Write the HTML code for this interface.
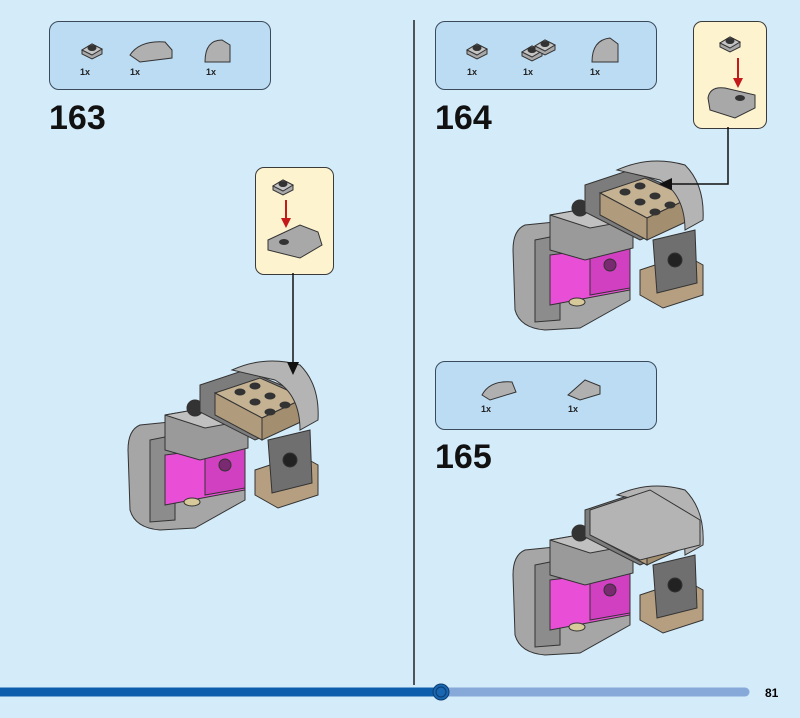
<!DOCTYPE html>
<html><head><meta charset="utf-8"><style>
body{margin:0;width:800px;height:718px;background:#d4ebf9;position:relative;overflow:hidden;font-family:"Liberation Sans",sans-serif}
.box{position:absolute;background:#bcdcf3;border:1.5px solid #3a4a5a;border-radius:10px}
.callout{position:absolute;background:#fdf3cf;border:1.5px solid #3a3a3a;border-radius:9px}
.num{position:absolute;font-weight:bold;font-size:34px;color:#111}
.q{position:absolute;font-weight:bold;font-size:9px;color:#222}
svg{position:absolute;left:0;top:0}
</style></head><body>
<div class="box" style="left:49px;top:21px;width:220px;height:67px"></div>
<div class="box" style="left:435px;top:21px;width:220px;height:67px"></div>
<div class="box" style="left:435px;top:361px;width:220px;height:67px"></div>
<div class="callout" style="left:255px;top:167px;width:77px;height:106px"></div>
<div class="callout" style="left:693px;top:21px;width:72px;height:106px"></div>
<div class="num" style="left:49px;top:99px">163</div>
<div class="num" style="left:435px;top:99px">164</div>
<div class="num" style="left:435px;top:438px">165</div>
<div class="q" style="left:80px;top:67px">1x</div><div class="q" style="left:130px;top:67px">1x</div><div class="q" style="left:206px;top:67px">1x</div>
<div class="q" style="left:467px;top:67px">1x</div><div class="q" style="left:523px;top:67px">1x</div><div class="q" style="left:590px;top:67px">1x</div>
<div class="q" style="left:481px;top:404px">1x</div><div class="q" style="left:568px;top:404px">1x</div>
<div style="position:absolute;left:765px;top:686px;font-weight:bold;font-size:12px">81</div>
<svg width="800" height="718">
<defs>
<g id="plate" stroke="#333" stroke-width="1">
<path d="M0 6 L10 0 L20 5 L20 10 L10 15 L0 10Z" fill="#a8a8a8"/>
<path d="M0 6 L10 11 L20 5 L10 0Z" fill="#c4c4c4"/>
<ellipse cx="10" cy="4" rx="4" ry="2.5" fill="#333"/>
</g>
<g id="model" stroke="#333" stroke-width="1">
<path d="M255 470 L300 455 L318 465 L318 495 L278 508 L255 495Z" fill="#b59f80"/>
<path d="M268 440 L310 430 L312 483 L272 493Z" fill="#6f6f6f"/>
<circle cx="290" cy="460" r="7" fill="#222"/>
<path d="M140 425 Q128 430 128 450 L130 510 Q135 528 160 530 L195 528 L245 500 L245 440 L190 420Z" fill="#a6a6a6"/>
<path d="M150 440 L175 435 L175 520 L150 522Z" fill="#8c8c8c"/>
<path d="M165 455 L245 445 L245 490 L165 505Z" fill="#e84fd6"/>
<path d="M205 450 L245 445 L245 488 L205 495Z" fill="#d040c0"/>
<circle cx="225" cy="465" r="6" fill="#7a2a70"/>
<path d="M165 415 L205 408 L248 420 L248 448 L200 460 L165 450Z" fill="#9a9a9a"/>
<path d="M165 415 L205 408 L248 420 L205 428Z" fill="#c0c0c0"/>
<ellipse cx="192" cy="502" rx="8" ry="4" fill="#d8c99a"/>
<circle cx="195" cy="408" r="8" fill="#333"/>
<path d="M200 385 L245 370 L305 395 L305 420 L255 440 L200 412Z" fill="#7c7c7c"/>
<path d="M215 393 L260 378 L305 398 L262 418Z" fill="#c5b293"/>
<path d="M262 418 L305 398 L305 420 L262 440Z" fill="#a38e70"/>
<path d="M215 393 L262 418 L262 440 L215 415Z" fill="#b09b7c"/>
<ellipse cx="240" cy="392" rx="5" ry="3" fill="#333"/><ellipse cx="255" cy="386" rx="5" ry="3" fill="#333"/>
<ellipse cx="255" cy="402" rx="5" ry="3" fill="#333"/><ellipse cx="270" cy="396" rx="5" ry="3" fill="#333"/>
<ellipse cx="270" cy="412" rx="5" ry="3" fill="#333"/><ellipse cx="285" cy="405" rx="5" ry="3" fill="#333"/>
<path d="M232 370 Q265 355 300 365 Q320 385 318 420 L300 430 Q300 395 275 380Z" fill="#b4b4b4"/>
</g>
</defs>
<line x1="414" y1="20" x2="414" y2="685" stroke="#222" stroke-width="1.5"/>
<line x1="0" y1="692" x2="440" y2="692" stroke="#0d5fae" stroke-width="9"/>
<line x1="445" y1="692" x2="745" y2="692" stroke="#86a9da" stroke-width="9" stroke-linecap="round"/>
<circle cx="441" cy="692" r="8" fill="#1a66b0" stroke="#0b3d70"/>
<circle cx="441" cy="692" r="5" fill="none" stroke="#0b3d70"/>
<use href="#model"/>
<use href="#model" transform="translate(385,-200)"/>
<use href="#model" transform="translate(385,125)"/>
<path d="M660 320 Q700 298 700 330 L700 350 Q660 348 620 345Z" fill="none" stroke="none"/>
<!-- 165 top slopes -->
<path d="M590 510 L650 490 L700 520 L700 545 L640 560 L590 535Z" fill="#b4b4b4" stroke="#333"/>
<!-- parts in boxes -->
<use href="#plate" transform="translate(82,44)"/>
<path d="M130 55 Q140 40 165 42 L172 50 L172 58 L140 62Z" fill="#b0b0b0" stroke="#333"/>
<path d="M205 62 Q205 40 222 40 L230 45 L230 62Z" fill="#b0b0b0" stroke="#333"/>
<use href="#plate" transform="translate(467,44)"/>
<use href="#plate" transform="translate(522,46)"/><use href="#plate" transform="translate(535,40)"/>
<path d="M592 62 Q592 40 610 38 L618 44 L618 62Z" fill="#b0b0b0" stroke="#333"/>
<path d="M482 395 Q490 380 512 382 L516 392 L490 400Z" fill="#b0b0b0" stroke="#333"/>
<path d="M568 395 L585 380 L600 386 L600 394 L580 400Z" fill="#b0b0b0" stroke="#333"/>
<!-- callouts -->
<use href="#plate" transform="translate(273,180)"/>
<line x1="286" y1="200" x2="286" y2="225" stroke="#c41a1a" stroke-width="2"/>
<path d="M281 218 L291 218 L286 228Z" fill="#c41a1a"/>
<path d="M268 240 L300 225 L318 232 L322 245 L300 258 L268 250Z" fill="#a8a8a8" stroke="#333"/>
<ellipse cx="284" cy="242" rx="5" ry="3" fill="#333"/>
<use href="#plate" transform="translate(720,37)"/>
<line x1="738" y1="58" x2="738" y2="85" stroke="#c41a1a" stroke-width="2"/>
<path d="M733 78 L743 78 L738 88Z" fill="#c41a1a"/>
<path d="M708 98 Q710 86 725 88 L755 95 L755 108 L735 118 L710 110Z" fill="#a8a8a8" stroke="#333"/>
<ellipse cx="740" cy="98" rx="5" ry="3" fill="#333"/>
<!-- connectors -->
<line x1="293" y1="273" x2="293" y2="368" stroke="#111" stroke-width="1.5"/>
<path d="M287 362 L299 362 L293 375Z" fill="#111"/>
<polyline points="728,127 728,184 668,184" fill="none" stroke="#111" stroke-width="1.5"/>
<path d="M672 178 L672 190 L659 184Z" fill="#111"/>
</svg>
</body></html>
